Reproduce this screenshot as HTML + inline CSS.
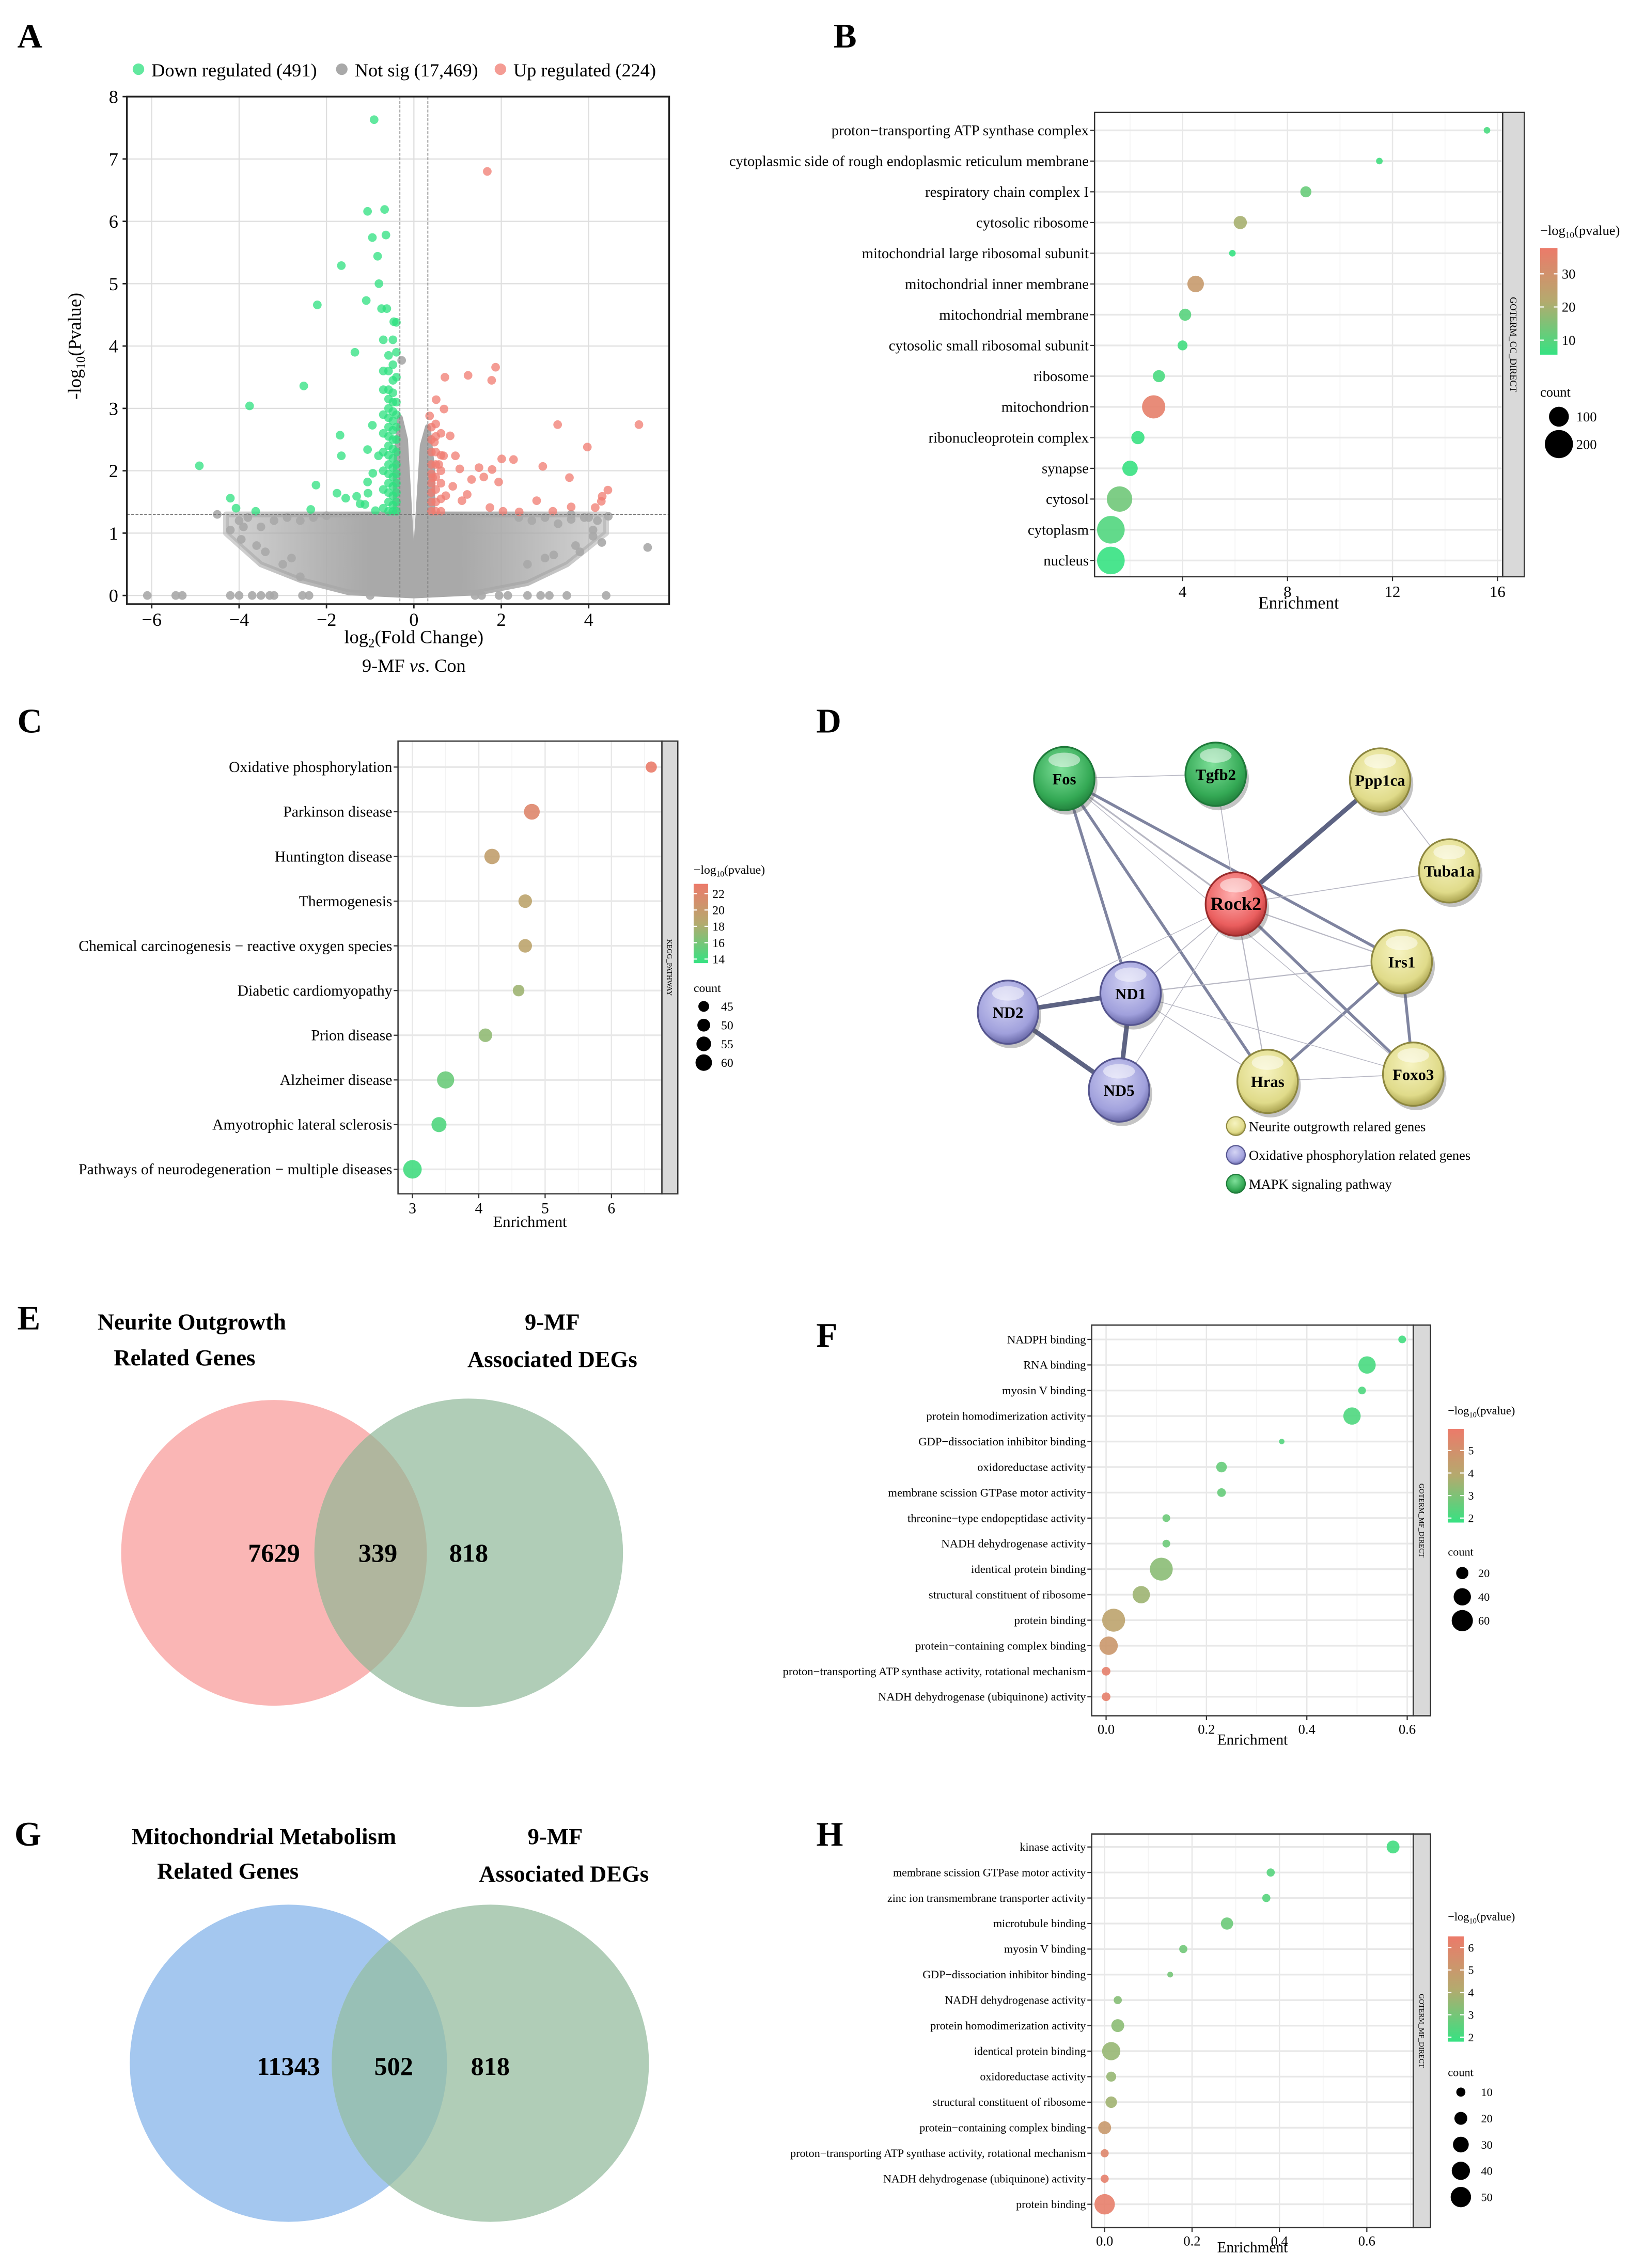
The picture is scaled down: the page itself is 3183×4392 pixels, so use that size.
<!DOCTYPE html>
<html><head><meta charset="utf-8"><title>Figure</title>
<style>
html,body{margin:0;padding:0;background:#fff;}
svg{display:block;font-family:"Liberation Serif",serif;}
</style></head>
<body>
<svg id="fig" xmlns="http://www.w3.org/2000/svg" width="3183" height="4392" viewBox="0 0 1140 1573">
<defs>
<linearGradient id="cgrad" x1="0" y1="1" x2="0" y2="0">
<stop offset="0" stop-color="#36e282"/><stop offset="0.5" stop-color="#b4aa6e"/><stop offset="1" stop-color="#ec7a6a"/>
</linearGradient>
<linearGradient id="grayFade" gradientUnits="userSpaceOnUse" x1="154" y1="0" x2="421" y2="0">
<stop offset="0" stop-color="#a9a9a9" stop-opacity="0.5"/><stop offset="0.25" stop-color="#a9a9a9" stop-opacity="0.85"/><stop offset="0.38" stop-color="#a9a9a9" stop-opacity="1"/><stop offset="0.62" stop-color="#a9a9a9" stop-opacity="1"/><stop offset="0.75" stop-color="#a9a9a9" stop-opacity="0.85"/><stop offset="1" stop-color="#a9a9a9" stop-opacity="0.5"/>
</linearGradient>
<radialGradient id="gGreen" cx="0.45" cy="0.35" r="0.7"><stop offset="0" stop-color="#7fe09a"/><stop offset="0.7" stop-color="#34a955"/><stop offset="1" stop-color="#1e7a38"/></radialGradient>
<radialGradient id="gYellow" cx="0.45" cy="0.35" r="0.7"><stop offset="0" stop-color="#f6f3c0"/><stop offset="0.7" stop-color="#e0db8a"/><stop offset="1" stop-color="#9c9440"/></radialGradient>
<radialGradient id="gPurple" cx="0.45" cy="0.35" r="0.7"><stop offset="0" stop-color="#d4d4f4"/><stop offset="0.7" stop-color="#a0a0dc"/><stop offset="1" stop-color="#5a5a9a"/></radialGradient>
<radialGradient id="gRed" cx="0.45" cy="0.35" r="0.7"><stop offset="0" stop-color="#ffb0b0"/><stop offset="0.7" stop-color="#ea5e5e"/><stop offset="1" stop-color="#a02828"/></radialGradient>
<clipPath id="clipE"><circle cx="190" cy="1077" r="106"/></clipPath>
<clipPath id="clipG"><circle cx="200" cy="1431" r="110"/></clipPath>
<clipPath id="clipA"><rect x="88" y="67" width="376" height="352"/></clipPath>
</defs>

<text x="12" y="33" font-size="24" font-weight="bold">A</text>
<text x="578" y="33" font-size="24" font-weight="bold">B</text>
<text x="12" y="508" font-size="24" font-weight="bold">C</text>
<text x="566" y="508" font-size="24" font-weight="bold">D</text>
<text x="12" y="922" font-size="24" font-weight="bold">E</text>
<text x="566" y="934" font-size="24" font-weight="bold">F</text>
<text x="10" y="1280" font-size="24" font-weight="bold">G</text>
<text x="566" y="1280" font-size="24" font-weight="bold">H</text>

<g>
<text x="133" y="922" font-size="16" font-weight="bold" text-anchor="middle">Neurite Outgrowth</text>
<text x="128" y="947" font-size="16" font-weight="bold" text-anchor="middle">Related Genes</text>
<text x="383" y="922" font-size="16" font-weight="bold" text-anchor="middle">9-MF</text>
<text x="383" y="948" font-size="16" font-weight="bold" text-anchor="middle">Associated DEGs</text>
<circle cx="190" cy="1077" r="106" fill="#fab6b5"/>
<circle cx="325" cy="1077" r="107" fill="#b0cdb7"/>
<circle cx="325" cy="1077" r="107" fill="#b0b69e" clip-path="url(#clipE)"/>
<text x="190" y="1083" font-size="18" font-weight="bold" text-anchor="middle">7629</text>
<text x="262" y="1083" font-size="18" font-weight="bold" text-anchor="middle">339</text>
<text x="325" y="1083" font-size="18" font-weight="bold" text-anchor="middle">818</text>
</g>

<g>
<text x="183" y="1279" font-size="16" font-weight="bold" text-anchor="middle">Mitochondrial Metabolism</text>
<text x="158" y="1303" font-size="16" font-weight="bold" text-anchor="middle">Related Genes</text>
<text x="385" y="1279" font-size="16" font-weight="bold" text-anchor="middle">9-MF</text>
<text x="391" y="1305" font-size="16" font-weight="bold" text-anchor="middle">Associated DEGs</text>
<circle cx="200" cy="1431" r="110" fill="#a4c7ef"/>
<circle cx="340" cy="1431" r="110" fill="#b0cdb7"/>
<circle cx="340" cy="1431" r="110" fill="#98c0b6" clip-path="url(#clipG)"/>
<text x="200" y="1439" font-size="18" font-weight="bold" text-anchor="middle">11343</text>
<text x="273" y="1439" font-size="18" font-weight="bold" text-anchor="middle">502</text>
<text x="340" y="1439" font-size="18" font-weight="bold" text-anchor="middle">818</text>
</g>
</svg>

<script>
// ---------- Volcano (A) data ----------
const volXTicks = [-6,-4,-2,0,2,4];
const volYTicks = [0,1,2,3,4,5,6,7,8];
const downX = [-0.91,-1.06,-0.67,-0.95,-0.64,-0.83,-1.66,-0.80,-2.21,-1.09,-0.74,-0.62,-0.46,-1.35,-2.52,-3.76,-4.91,-1.69,-1.66,-0.95,-1.06,-2.24,-1.76,-1.31,-4.2,-4.07,-3.62,-2.36,-1.56,-1.12,-1.05,-1.06,-0.94,-0.81,-0.88,-1.23,
 -0.58,-0.58,-0.58,-0.58,-0.58,-0.58,-0.58,-0.58,-0.58,-0.58,-0.58,-0.58,-0.58,-0.58,-0.58,-0.58,
 -0.48,-0.48,-0.48,-0.48,-0.48,-0.48,-0.48,-0.48,-0.48,-0.48,-0.48,-0.48,-0.48,-0.48,-0.48,-0.48,-0.48,
 -0.40,-0.40,-0.40,-0.40,-0.40,-0.40,-0.40,-0.40,-0.40,-0.40,-0.40,-0.40,-0.40,-0.40,
 -0.70,-0.70,-0.70,-0.70,-0.70,-0.70,-0.70,-0.70,-0.70];
const downY = [7.63,6.16,6.19,5.74,5.78,5.44,5.29,5.0,4.66,4.73,4.6,4.6,4.39,3.9,3.36,3.04,2.08,2.57,2.24,2.73,2.34,1.77,1.64,1.59,1.56,1.4,1.35,1.38,1.56,1.46,1.64,1.82,1.96,2.24,1.36,1.47,
 1.35,1.5,1.65,1.8,1.95,2.1,2.25,2.4,2.55,2.7,2.85,3.0,3.15,3.3,3.6,3.85,
 1.35,1.45,1.6,1.75,1.9,2.05,2.2,2.35,2.5,2.65,2.8,2.95,3.1,3.25,3.45,3.7,4.1,
 1.35,1.5,1.65,1.8,1.95,2.1,2.3,2.5,2.7,2.9,3.1,3.5,3.9,4.38,
 1.4,1.7,2.0,2.3,2.6,2.9,3.3,3.6,4.1];
const upX = [1.68,1.87,1.24,1.78,0.71,0.51,0.69,3.29,5.15,3.97,2.01,2.28,2.95,1.49,1.79,3.56,4.44,4.31,4.29,4.15,3.6,2.81,2.04,2.41,1.74,3.18,1.32,1.6,1.94,1.22,1.1,0.95,0.83,0.36,0.47,0.57,0.89,1.05,0.43,0.68,0.73,
 0.40,0.40,0.40,0.40,0.40,0.40,0.40,0.40,0.40,
 0.50,0.50,0.50,0.50,0.50,0.50,0.50,0.50,
 0.62,0.62,0.62,0.62,0.62,0.62];
const upY = [6.8,3.66,3.53,3.45,3.5,3.14,2.99,2.74,2.74,2.38,2.19,2.18,2.07,2.05,2.02,1.89,1.69,1.59,1.51,1.41,1.42,1.52,1.35,1.34,1.41,1.35,1.86,1.9,1.82,1.62,1.52,2.24,2.56,2.88,2.46,2.1,1.75,2.03,1.89,2.24,1.6,
 1.35,1.5,1.65,1.8,1.95,2.1,2.3,2.5,2.7,
 1.35,1.5,1.7,1.9,2.1,2.3,2.55,2.75,
 1.35,1.55,1.8,2.0,2.25,2.6];
const grayX = [-6.1,-5.45,-5.3,-4.2,-4.0,-3.7,-3.5,-3.3,-3.2,-2.55,-2.4,-1.0,1.4,1.55,1.95,2.15,2.6,2.9,3.1,3.5,4.4,-4.5,-4.2,5.35,4.3,-0.28,4.0,4.45,3.6,3.0,2.6,-3.9,-3.6,-3.0,-2.6,4.1,3.8,
 -4.0,-3.8,-3.5,-3.2,-2.9,-2.6,-2.3,-2.0,2.4,2.7,3.0,3.3,3.6,3.9,4.2,-3.95,-3.4,-2.8,3.2,3.7,4.1];
const grayY = [0,0,0,0,0,0,0,0,0,0,0,0,0,0,0,0,0,0,0,0,0,1.3,1.05,0.77,0.85,3.77,1.25,1.27,1.3,0.6,0.5,1.1,0.8,0.5,0.3,0.95,0.7,
 1.2,1.25,1.1,1.2,1.25,1.2,1.25,1.28,1.25,1.2,1.25,1.15,1.22,1.25,1.2,0.9,0.7,0.6,0.65,0.8,1.05];
const envX = [-4.3,-0.42,-0.42,-0.32,-0.2,-0.07,0,0.07,0.2,0.32,0.42,0.42,4.4,4.4,3.5,2.6,1.5,0,-1.5,-2.6,-3.5,-4.3];
const envY = [1.3,1.3,2.0,2.85,2.5,0.9,0.25,0.9,2.4,2.7,2.0,1.3,1.3,1.0,0.5,0.2,0.05,0,0.05,0.25,0.5,1.0];

// ---------- Panel B data ----------
const bTerms = ["proton\u2212transporting ATP synthase complex","cytoplasmic side of rough endoplasmic reticulum membrane","respiratory chain complex I","cytosolic ribosome","mitochondrial large ribosomal subunit","mitochondrial inner membrane","mitochondrial membrane","cytosolic small ribosomal subunit","ribosome","mitochondrion","ribonucleoprotein complex","synapse","cytosol","cytoplasm","nucleus"];
const bEnrich = [15.6,11.5,8.7,6.2,5.9,4.5,4.1,4.0,3.1,2.9,2.3,2.0,1.6,1.27,1.27];
const bCount = [11,11,31,44,11,69,37,25,37,136,44,60,163,193,193];
const bLogP = [8,7,12,20,5,27,10,7,8,36,6,6,13,9,5];
const bXTicks = [4,8,12,16];
const bColorTicks = [10,20,30];
const bSizeLegend = [100,200];

// ---------- Panel C data ----------
const cTerms = ["Oxidative phosphorylation","Parkinson disease","Huntington disease","Thermogenesis","Chemical carcinogenesis \u2212 reactive oxygen species","Diabetic cardiomyopathy","Prion disease","Alzheimer disease","Amyotrophic lateral sclerosis","Pathways of neurodegeneration \u2212 multiple diseases"];
const cEnrich = [6.6,4.8,4.2,4.7,4.7,4.6,4.1,3.5,3.4,3.0];
const cCount = [46,58,57,52,52,47,52,62,56,66];
const cLogP = [23,22,19.5,19,19,17.5,17,15.5,14.5,14];
const cXTicks = [3,4,5,6];
const cColorTicks = [14,16,18,20,22];
const cSizeLegend = [45,50,55,60];

// ---------- Panel F data ----------
const fTerms = ["NADPH binding","RNA binding","myosin V binding","protein homodimerization activity","GDP\u2212dissociation inhibitor binding","oxidoreductase activity","membrane scission GTPase motor activity","threonine\u2212type endopeptidase activity","NADH dehydrogenase activity","identical protein binding","structural constituent of ribosome","protein binding","protein\u2212containing complex binding","proton\u2212transporting ATP synthase activity, rotational mechanism","NADH dehydrogenase (ubiquinone) activity"];
const fEnrich = [0.59,0.52,0.51,0.49,0.35,0.23,0.23,0.12,0.12,0.11,0.07,0.015,0.005,0.0,0.0];
const fCount = [8,40,8,40,4,15,10,8,8,70,40,70,45,10,10];
const fLogP = [2,2.1,2.2,2.2,2.3,2.6,2.6,2.7,2.7,3.2,3.5,4.2,4.7,5.7,5.7];
const fXTicks = [0.0,0.2,0.4,0.6];
const fColorTicks = [2,3,4,5];
const fSizeLegend = [20,40,60];

// ---------- Panel H data ----------
const hTerms = ["kinase activity","membrane scission GTPase motor activity","zinc ion transmembrane transporter activity","microtubule binding","myosin V binding","GDP\u2212dissociation inhibitor binding","NADH dehydrogenase activity","protein homodimerization activity","identical protein binding","oxidoreductase activity","structural constituent of ribosome","protein\u2212containing complex binding","proton\u2212transporting ATP synthase activity, rotational mechanism","NADH dehydrogenase (ubiquinone) activity","protein binding"];
const hEnrich = [0.66,0.38,0.37,0.28,0.18,0.15,0.03,0.03,0.015,0.015,0.015,0.0,0.0,0.0,0.0];
const hCount = [20,8,8,18,8,4,8,20,40,12,16,20,8,8,50];
const hLogP = [2,2.4,2.4,2.8,2.9,3.0,3.3,3.4,3.6,3.6,3.8,5,5.9,6.2,6.3];
const hXTicks = [0.0,0.2,0.4,0.6];
const hColorTicks = [2,3,4,5,6];
const hSizeLegend = [10,20,30,40,50];

// ---------- Panel D network data ----------
const nodeNames = ["Fos","Tgfb2","Ppp1ca","Tuba1a","Rock2","Irs1","ND1","ND2","ND5","Hras","Foxo3"];
const nodeX = [738,843,957,1005,857,972,784,699,776,879,980];
const nodeY = [540,537,541,604,627,667,689,702,756,750,745];
const nodeGroup = ["green","green","yellow","yellow","red","yellow","purple","purple","purple","yellow","yellow"];
const edgeFrom = ["Rock2","ND2","ND1","ND2","Fos","Fos","Fos","Rock2","Irs1","Irs1","Fos","Fos","Tgfb2","Ppp1ca","Rock2","Rock2","Rock2","Rock2","Rock2","Rock2","ND1","ND1","ND1","Hras","Fos"];
const edgeTo   = ["Ppp1ca","ND1","ND5","ND5","ND1","Hras","Irs1","Foxo3","Hras","Foxo3","Rock2","Tgfb2","Rock2","Tuba1a","Tuba1a","Irs1","ND1","ND2","ND5","Hras","Irs1","Hras","Foxo3","Foxo3","Foxo3"];
const edgeW    = [3.2,3.2,3.2,3.2,2,2,2,2,2,2,1.2,0.6,0.6,0.6,0.6,0.8,0.6,0.5,0.5,0.8,0.8,0.6,0.5,0.6,0.5];

// ---------- helpers ----------
const NS = 'http://www.w3.org/2000/svg';
const svg = document.getElementById('fig');
function mk(tag, attrs, name, parent) {
  const e = document.createElementNS(NS, tag);
  for (const k in attrs) e.setAttribute(k, attrs[k]);
  
  
  (parent || svg).appendChild(e);
  return e;
}
function tx(s, x, y, size, anchor, name, parent, extra) {
  const a = {x: x, y: y, 'font-size': size, 'text-anchor': anchor || 'start'};
  if (extra) for (const k in extra) a[k] = extra[k];
  const t = mk('text', a, name, parent);
  t.textContent = s;
  return t;
}
function lerp(a, b, t) { return Math.round(a + (b - a) * t); }
function colorFor(t) {
  t = Math.max(0, Math.min(1, t));
  const c0 = [54,226,130], c1 = [180,170,110], c2 = [236,122,106];
  let a, b, u;
  if (t < 0.5) { a = c0; b = c1; u = t / 0.5; } else { a = c1; b = c2; u = (t - 0.5) / 0.5; }
  return 'rgb(' + lerp(a[0],b[0],u) + ',' + lerp(a[1],b[1],u) + ',' + lerp(a[2],b[2],u) + ')';
}

// ---------- Volcano ----------
(function () {
  const g = mk('g', {}, 'volcano-plot');
  const L = 88, R = 464, T = 67, B = 419;
  const xs = v => 287 + v * 30.3;
  const ys = v => 413 - v * 43.25;
  mk('rect', {x: L, y: T, width: R - L, height: B - T, fill: '#fff'}, 'volcano-panel', g);
  volXTicks.forEach(v => { mk('line', {x1: xs(v), x2: xs(v), y1: T, y2: B, stroke: '#dedede', 'stroke-width': 0.8}, 'volcano-x-grid', g); });
  volYTicks.forEach(v => { mk('line', {x1: L, x2: R, y1: ys(v), y2: ys(v), stroke: '#dedede', 'stroke-width': 0.8}, 'volcano-y-grid', g); });
  const cg = mk('g', {'clip-path': 'url(#clipA)'}, 'volcano-points', g);
  const poly = (X, Y) => X.map((v, i) => xs(v).toFixed(1) + ',' + ys(Y[i]).toFixed(1)).join(' ');
  mk('polygon', {points: poly(envX, envY), fill: 'url(#grayFade)', stroke: 'url(#grayFade)', 'stroke-width': 4, 'stroke-linejoin': 'round'}, 'not-sig-density', cg);
  grayX.forEach((v, i) => { mk('circle', {cx: xs(v), cy: ys(grayY[i]), r: 3, fill: '#a9a9a9', opacity: 0.9}, 'not-sig-point', cg); });
  downX.forEach((v, i) => { mk('circle', {cx: xs(v), cy: ys(downY[i]), r: 3, fill: '#2ee07f', opacity: 0.75}, 'down-regulated-point', cg); });
  upX.forEach((v, i) => { mk('circle', {cx: xs(v), cy: ys(upY[i]), r: 3, fill: '#f07b70', opacity: 0.75}, 'up-regulated-point', cg); });
  [-0.32, 0.32].forEach(v => { mk('line', {x1: xs(v), x2: xs(v), y1: T, y2: B, stroke: '#777', 'stroke-width': 0.6, 'stroke-dasharray': '2,1'}, 'fc-threshold-line', g); });
  mk('line', {x1: L, x2: R, y1: ys(1.3), y2: ys(1.3), stroke: '#777', 'stroke-width': 0.6, 'stroke-dasharray': '2,1'}, 'pvalue-threshold-line', g);
  mk('rect', {x: L, y: T, width: R - L, height: B - T, fill: 'none', stroke: '#222', 'stroke-width': 1.2}, 'volcano-border', g);
  volXTicks.forEach(v => {
    mk('line', {x1: xs(v), x2: xs(v), y1: B, y2: B + 3, stroke: '#222'}, 'volcano-x-tick', g);
    tx((v < 0 ? '\u2212' : '') + Math.abs(v), xs(v), 434, 13, 'middle', 'volcano-x-tick-label', g);
  });
  volYTicks.forEach(v => {
    mk('line', {x1: L - 3, x2: L, y1: ys(v), y2: ys(v), stroke: '#222'}, 'volcano-y-tick', g);
    tx(String(v), 82, ys(v) + 4.5, 13, 'end', 'volcano-y-tick-label', g);
  });
  const xl = tx('', 287, 446, 13, 'middle', 'volcano-x-title', g);
  const t1 = document.createElementNS(NS, 'tspan'); t1.textContent = 'log'; xl.appendChild(t1);
  const t2 = document.createElementNS(NS, 'tspan'); t2.textContent = '2'; t2.setAttribute('font-size', 9); t2.setAttribute('dy', 3); xl.appendChild(t2);
  const t3 = document.createElementNS(NS, 'tspan'); t3.textContent = '(Fold Change)'; t3.setAttribute('dy', -3); xl.appendChild(t3);
  const sub = tx('', 287, 466, 13, 'middle', 'volcano-comparison-label', g);
  const s1 = document.createElementNS(NS, 'tspan'); s1.textContent = '9-MF '; sub.appendChild(s1);
  const s2 = document.createElementNS(NS, 'tspan'); s2.textContent = 'vs'; s2.setAttribute('font-style', 'italic'); sub.appendChild(s2);
  const s3 = document.createElementNS(NS, 'tspan'); s3.textContent = '. Con'; sub.appendChild(s3);
  const yl = tx('', 0, 0, 13, 'middle', 'volcano-y-title', g, {transform: 'translate(56,240) rotate(-90)'});
  const y1 = document.createElementNS(NS, 'tspan'); y1.textContent = '-log'; yl.appendChild(y1);
  const y2 = document.createElementNS(NS, 'tspan'); y2.textContent = '10'; y2.setAttribute('font-size', 9); y2.setAttribute('dy', 3); yl.appendChild(y2);
  const y3 = document.createElementNS(NS, 'tspan'); y3.textContent = '(Pvalue)'; y3.setAttribute('dy', -3); yl.appendChild(y3);
  mk('circle', {cx: 96, cy: 48, r: 4, fill: '#2ee07f', opacity: 0.75}, 'legend-down-key', g);
  tx('Down regulated (491)', 105, 53, 13, 'start', 'legend-down-label', g);
  mk('circle', {cx: 237, cy: 48, r: 4, fill: '#a9a9a9'}, 'legend-notsig-key', g);
  tx('Not sig (17,469)', 246, 53, 13, 'start', 'legend-notsig-label', g);
  mk('circle', {cx: 347, cy: 48, r: 4, fill: '#f07b70', opacity: 0.75}, 'legend-up-key', g);
  tx('Up regulated (224)', 356, 53, 13, 'start', 'legend-up-label', g);
})();

// ---------- Dot plot ----------
function dotPlot(cfg, terms, enrich, count, logp, xticks, cticks, sizeLeg) {
  const g = mk('g', {}, cfg.name);
  const L = cfg.L, R = cfg.R, T = cfg.T, B = cfg.B;
  const xs = v => cfg.x0 + v * cfg.xk;
  const ys = i => cfg.row0 + i * cfg.rowStep;
  const rs = c => cfg.rA + cfg.rK * Math.sqrt(c);
  const cs = p => colorFor((p - cfg.cMin) / (cfg.cMax - cfg.cMin));
  mk('rect', {x: L, y: T, width: R - L, height: B - T, fill: '#fff'}, cfg.name + '-panel', g);
  const minor = [];
  for (let i = 0; i < xticks.length - 1; i++) minor.push((xticks[i] + xticks[i + 1]) / 2);
  minor.push(xticks[0] - (xticks[1] - xticks[0]) / 2);
  minor.push(xticks[xticks.length - 1] + (xticks[1] - xticks[0]) / 2);
  minor.forEach(v => { if (xs(v) > L && xs(v) < R) mk('line', {x1: xs(v), x2: xs(v), y1: T, y2: B, stroke: '#f3f3f3', 'stroke-width': 0.6}, cfg.name + '-minor-grid', g); });
  xticks.forEach(v => { mk('line', {x1: xs(v), x2: xs(v), y1: T, y2: B, stroke: '#e8e8e8', 'stroke-width': 0.9}, cfg.name + '-x-grid', g); });
  terms.forEach((s, i) => { mk('line', {x1: L, x2: R, y1: ys(i), y2: ys(i), stroke: '#e8e8e8', 'stroke-width': 1.2}, cfg.name + '-row-grid', g); });
  terms.forEach((s, i) => {
    mk('circle', {cx: xs(enrich[i]), cy: ys(i), r: rs(count[i]), fill: cs(logp[i]), opacity: 0.9}, cfg.name + '-dot', g);
  });
  mk('rect', {x: L, y: T, width: R - L, height: B - T, fill: 'none', stroke: '#333', 'stroke-width': 0.9}, cfg.name + '-border', g);
  mk('rect', {x: R, y: T, width: cfg.SW, height: B - T, fill: '#d9d9d9', stroke: '#333', 'stroke-width': 0.9}, cfg.name + '-strip', g);
  tx(cfg.strip, 0, 0, cfg.stripSize, 'middle', cfg.name + '-strip-label', g, {transform: 'translate(' + (R + cfg.SW / 2 - cfg.stripSize * 0.35) + ',' + ((T + B) / 2) + ') rotate(90)'});
  terms.forEach((s, i) => {
    mk('line', {x1: L - 3, x2: L, y1: ys(i), y2: ys(i), stroke: '#333', 'stroke-width': 0.8}, cfg.name + '-y-tick', g);
    tx(s, L - 4, ys(i) + cfg.labSize * 0.33, cfg.labSize, 'end', cfg.name + '-term-label', g);
  });
  xticks.forEach(v => {
    mk('line', {x1: xs(v), x2: xs(v), y1: B, y2: B + 3, stroke: '#333', 'stroke-width': 0.8}, cfg.name + '-x-tick', g);
    tx(cfg.fmt(v), xs(v), B + 3 + cfg.tickSize, cfg.tickSize, 'middle', cfg.name + '-x-tick-label', g);
  });
  tx('Enrichment', (L + R) / 2, cfg.xTitleY, cfg.titleSize, 'middle', cfg.name + '-x-title', g);
  const lt = tx('', cfg.legX, cfg.legTitleY, cfg.legSize, 'start', cfg.name + '-color-legend-title', g);
  const a1 = document.createElementNS(NS, 'tspan'); a1.textContent = '\u2212log'; lt.appendChild(a1);
  const a2 = document.createElementNS(NS, 'tspan'); a2.textContent = '10'; a2.setAttribute('font-size', cfg.legSize * 0.65); a2.setAttribute('dy', 2); lt.appendChild(a2);
  const a3 = document.createElementNS(NS, 'tspan'); a3.textContent = '(pvalue)'; a3.setAttribute('dy', -2); lt.appendChild(a3);
  mk('rect', {x: cfg.legX, y: cfg.barT, width: cfg.barW, height: cfg.barB - cfg.barT, fill: 'url(#cgrad)'}, cfg.name + '-colorbar', g);
  const cy = v => cfg.barB - (v - cfg.cMin) / (cfg.cMax - cfg.cMin) * (cfg.barB - cfg.barT);
  cticks.forEach(v => {
    mk('line', {x1: cfg.legX, x2: cfg.legX + 2.5, y1: cy(v), y2: cy(v), stroke: '#fff', 'stroke-width': 0.8}, cfg.name + '-colorbar-tick', g);
    mk('line', {x1: cfg.legX + cfg.barW - 2.5, x2: cfg.legX + cfg.barW, y1: cy(v), y2: cy(v), stroke: '#fff', 'stroke-width': 0.8}, cfg.name + '-colorbar-tick', g);
    tx(String(v), cfg.legX + cfg.barW + 3, cy(v) + cfg.legSize * 0.35, cfg.legSize, 'start', cfg.name + '-colorbar-label', g);
  });
  tx('count', cfg.legX, cfg.countY, cfg.legSize, 'start', cfg.name + '-size-legend-title', g);
  sizeLeg.forEach((c, i) => {
    const yy = cfg.sizeY0 + i * cfg.sizeStep;
    mk('circle', {cx: cfg.legX + cfg.sizeDX, cy: yy, r: rs(c), fill: '#000'}, cfg.name + '-size-key', g);
    tx(String(c), cfg.legX + cfg.sizeDX + cfg.sizeLabDX, yy + cfg.legSize * 0.35, cfg.legSize, 'start', cfg.name + '-size-key-label', g);
  });
}

dotPlot({name: 'go-cc-dotplot', L: 759, R: 1042, T: 78, B: 400, SW: 15, x0: 747.2, xk: 18.2,
  row0: 90.4, rowStep: 21.31, rA: 0, rK: 0.69, cMin: 5.6, cMax: 37.8,
  strip: 'GOTERM_CC_DIRECT', stripSize: 6.5, labSize: 10.3, tickSize: 11, titleSize: 12, xTitleY: 422,
  fmt: v => String(v), legX: 1068, legTitleY: 163, legSize: 9.5, barT: 172, barB: 246, barW: 12,
  countY: 275, sizeY0: 289, sizeStep: 19, sizeDX: 13, sizeLabDX: 12},
  bTerms, bEnrich, bCount, bLogP, bXTicks, bColorTicks, bSizeLegend);

dotPlot({name: 'kegg-dotplot', L: 276, R: 459, T: 514, B: 828, SW: 11, x0: 148, xk: 46,
  row0: 532, rowStep: 31, rA: -9, rK: 1.9, cMin: 13.5, cMax: 23.2,
  strip: 'KEGG_PATHWAY', stripSize: 5, labSize: 10.6, tickSize: 10.5, titleSize: 11, xTitleY: 851,
  fmt: v => String(v), legX: 481, legTitleY: 606, legSize: 8.5, barT: 613, barB: 668, barW: 10,
  countY: 688, sizeY0: 698, sizeStep: 13, sizeDX: 7, sizeLabDX: 12},
  cTerms, cEnrich, cCount, cLogP, cXTicks, cColorTicks, cSizeLegend);

dotPlot({name: 'go-mf-dotplot-f', L: 757, R: 980, T: 919, B: 1190, SW: 12, x0: 767, xk: 348,
  row0: 929, rowStep: 17.7, rA: 0, rK: 0.95, cMin: 1.8, cMax: 5.96,
  strip: 'GOTERM_MF_DIRECT', stripSize: 5, labSize: 8.1, tickSize: 9.5, titleSize: 10.5, xTitleY: 1210,
  fmt: v => v.toFixed(1), legX: 1004, legTitleY: 981, legSize: 8, barT: 991, barB: 1056, barW: 11,
  countY: 1079, sizeY0: 1091, sizeStep: 16.5, sizeDX: 10, sizeLabDX: 11},
  fTerms, fEnrich, fCount, fLogP, fXTicks, fColorTicks, fSizeLegend);

dotPlot({name: 'go-mf-dotplot-h', L: 757, R: 980, T: 1272, B: 1545, SW: 12, x0: 766, xk: 303,
  row0: 1281, rowStep: 17.7, rA: 0, rK: 1.0, cMin: 1.8, cMax: 6.5,
  strip: 'GOTERM_MF_DIRECT', stripSize: 5, labSize: 7.9, tickSize: 9.5, titleSize: 10.5, xTitleY: 1562,
  fmt: v => v.toFixed(1), legX: 1004, legTitleY: 1332, legSize: 8, barT: 1343, barB: 1416, barW: 11,
  countY: 1440, sizeY0: 1451, sizeStep: 18.2, sizeDX: 9, sizeLabDX: 14},
  hTerms, hEnrich, hCount, hLogP, hXTicks, hColorTicks, hSizeLegend);

// ---------- Network (D) ----------
(function () {
  const g = mk('g', {}, 'ppi-network');
  const idx = n => nodeNames.indexOf(n);
  edgeFrom.forEach((f, i) => {
    const a = idx(f), b = idx(edgeTo[i]);
    const w = edgeW[i];
    const col = w >= 3 ? '#5d6383' : (w >= 2 ? '#7f84a0' : '#b8b8c4');
    mk('line', {x1: nodeX[a], y1: nodeY[a], x2: nodeX[b], y2: nodeY[b], stroke: col, 'stroke-width': w, 'stroke-linecap': 'round'}, 'network-edge', g);
  });
  const fills = {green: 'url(#gGreen)', yellow: 'url(#gYellow)', purple: 'url(#gPurple)', red: 'url(#gRed)'};
  const strokes = {green: '#1f7a3a', yellow: '#8d8740', purple: '#55558f', red: '#9a2b2b'};
  nodeNames.forEach((n, i) => {
    const gr = nodeGroup[i];
    mk('ellipse', {cx: nodeX[i] + 2, cy: nodeY[i] + 3, rx: 21, ry: 22, fill: '#555', opacity: 0.35}, 'network-node-shadow', g);
    mk('ellipse', {cx: nodeX[i], cy: nodeY[i], rx: 21, ry: 22, fill: fills[gr], stroke: strokes[gr], 'stroke-width': 1.2}, 'network-node-' + n.toLowerCase(), g);
    mk('ellipse', {cx: nodeX[i], cy: nodeY[i] - 13, rx: 11, ry: 5, fill: '#fff', opacity: 0.5}, 'network-node-highlight', g);
    tx(n, nodeX[i], nodeY[i] + 4, n === 'Rock2' ? 13 : 11, 'middle', 'network-node-label', g, {'font-weight': 'bold'});
  });
  const leg = [['yellow', 'Neurite outgrowth relared genes', 781], ['purple', 'Oxidative phosphorylation related genes', 801], ['green', 'MAPK signaling pathway', 821]];
  leg.forEach(l => {
    mk('circle', {cx: 857, cy: l[2], r: 6.5, fill: fills[l[0]], stroke: strokes[l[0]], 'stroke-width': 0.8}, 'network-legend-key', g);
    tx(l[1], 866, l[2] + 3.5, 9.5, 'start', 'network-legend-label', g);
  });
})();
</script>
</body></html>
